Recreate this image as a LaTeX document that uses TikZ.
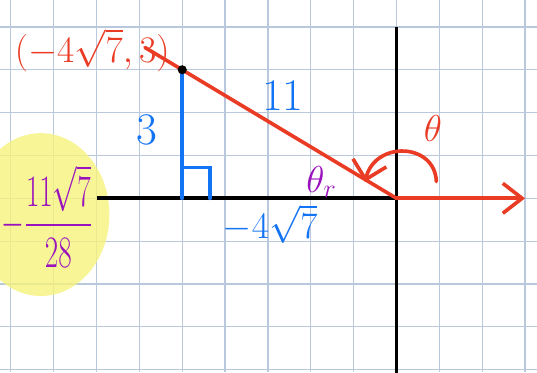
\documentclass[tikz,border=0pt]{standalone}
\usepackage{amsmath}
\usetikzlibrary{arrows.meta,calc}
\definecolor{grd}{HTML}{B9C8DC}
\definecolor{pen}{HTML}{EA3B24}
\definecolor{ink}{HTML}{1273F5}
\definecolor{vio}{HTML}{9A12BE}
\definecolor{hilite}{HTML}{F6F37C}
\tikzset{
  >={Straight Barb[length=4.5mm,width=7mm]},
  ax/.style={draw=black,line width=2.6pt},
  rline/.style={draw=pen,line width=2.4pt,line cap=round},
  bline/.style={draw=ink,line width=2.4pt,line cap=round},
  rlab/.style={text=pen,inner sep=1pt,font=\fontsize{24}{26}\selectfont},
  blab/.style={text=ink,inner sep=1pt,font=\fontsize{30}{32}\selectfont},
  plab/.style={text=vio,inner sep=1pt,font=\fontsize{24}{26}\selectfont},
}
\begin{document}
\begin{tikzpicture}
\useasboundingbox (-9.253,-4.054) rectangle (3.279,4.628);
\fill[white] (-9.253,-4.054) rectangle (3.279,4.628);
\draw[grd,line width=0.8pt] (-9.253,-4.054) grid (3.279,4.628);
\fill[hilite,fill opacity=0.8] (-8.3,-0.38) ellipse [x radius=1.6,y radius=1.9];
% axes
\coordinate (O) at (0,0);
\coordinate (xl) at (-7,0);
\coordinate (xr) at (3,0);
\coordinate (yt) at (0,4);
\coordinate (yb) at (0,-4.2);
\draw[ax] (xl)--(O); \draw[ax] (yt)--(yb);
\draw[rline,->] (O)--(xr);
% terminal side and triangle
\coordinate (E) at (-5.87,3.52);
\coordinate (F) at (-5,0);
\coordinate (q1) at (-5,0.72);
\coordinate (q2) at (-4.35,0.72);
\coordinate (q3) at (-4.35,0);
\draw[rline] (O)--(E);
\draw[bline] (-5,3)--(F);
\draw[bline] (q1)--(q2)--(q3);
\node[circle,fill=black,inner sep=0pt,minimum size=6pt] (P) at (-5,3) {};
% angle arc
\coordinate (a0) at (0.93,0.39);
\coordinate (a1) at (-0.735,0.38);
\draw[rline,-{Straight Barb[length=4mm,width=8mm]}] (a0) .. controls (0.9,1.3) and (-0.5,1.35) .. (a1);
% labels
\node[rlab] (pt) at (-7.1,3.45) {$(-4\sqrt{7},3)$};
\node[blab] (opp) at (-5.82,1.6) {3};
\node[blab] (hyp) at (-2.65,2.4) {11};
\node[blab,font=\fontsize{28}{30}\selectfont] (adj) at (-2.95,-0.6) {$-4\sqrt{7}$};
\node[plab] (ref) at (-1.75,0.38) {$\theta_r$};
\node[rlab] (th) at (0.85,1.62) {$\theta$};
\node[plab,anchor=west,transform shape,xscale=0.78,yscale=1.2] (sec) at (-9.24,-0.42) {$-\dfrac{11\sqrt{7}}{28}$};
\end{tikzpicture}
\end{document}
